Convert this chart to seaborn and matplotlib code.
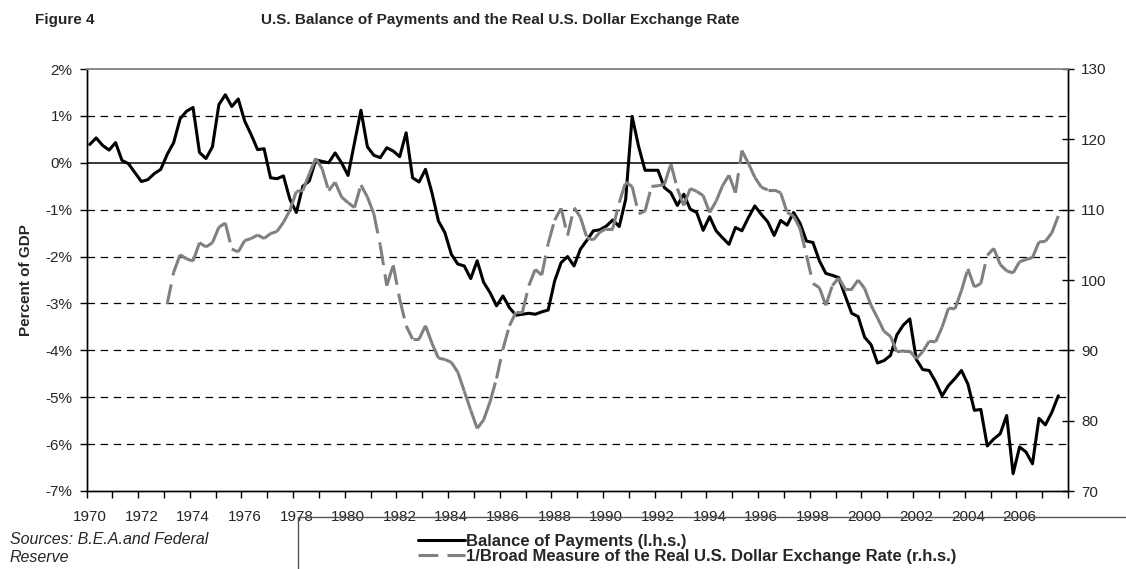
import numpy as np
import pandas as pd
import matplotlib
matplotlib.use("Agg")
import matplotlib.pyplot as plt
import seaborn as sns
from matplotlib.patches import Rectangle
from matplotlib.ticker import FixedLocator, FixedFormatter

# ---------------- data (quarterly, 1970Q1 onward) ----------------
start_year = 1970
# Balance of payments, percent of GDP (l.h.s.), 1970Q1 .. 2007Q3
bop_pct = [
    0.39, 0.53, 0.37, 0.27, 0.43, 0.05, -0.02, -0.21, -0.40, -0.36,
    -0.23, -0.14, 0.18, 0.43, 0.94, 1.10, 1.18, 0.22, 0.09, 0.34,
    1.24, 1.45, 1.20, 1.36, 0.89, 0.60, 0.28, 0.30, -0.32, -0.34,
    -0.28, -0.78, -1.06, -0.50, -0.39, 0.06, 0.03, 0.00, 0.21, 0.00,
    -0.27, 0.43, 1.12, 0.34, 0.16, 0.11, 0.32, 0.25, 0.13, 0.64,
    -0.32, -0.41, -0.14, -0.64, -1.24, -1.49, -1.95, -2.16, -2.20, -2.47,
    -2.09, -2.55, -2.77, -3.05, -2.84, -3.09, -3.25, -3.23, -3.21, -3.23,
    -3.18, -3.14, -2.52, -2.13, -2.00, -2.20, -1.84, -1.65, -1.45, -1.43,
    -1.35, -1.22, -1.36, -0.78, 0.99, 0.35, -0.16, -0.16, -0.16, -0.53,
    -0.64, -0.91, -0.67, -0.99, -1.06, -1.44, -1.15, -1.45, -1.60, -1.74,
    -1.38, -1.45, -1.17, -0.92, -1.10, -1.26, -1.55, -1.23, -1.33, -1.06,
    -1.29, -1.67, -1.70, -2.09, -2.36, -2.40, -2.45, -2.84, -3.21, -3.28,
    -3.72, -3.88, -4.27, -4.22, -4.11, -3.67, -3.46, -3.33, -4.19, -4.41,
    -4.43, -4.67, -4.97, -4.75, -4.60, -4.43, -4.72, -5.28, -5.26, -6.04,
    -5.89, -5.78, -5.39, -6.63, -6.06, -6.17, -6.42, -5.45, -5.59, -5.32,
    -4.97,
]
# 1/Broad real dollar index (r.h.s.), 1973Q1 .. 2007Q3
fx_first_quarter = 12
fx_index = [
    96.6, 101.1, 103.6, 103.0, 102.7, 105.3, 104.7, 105.3, 107.5, 108.1,
    104.4, 104.0, 105.6, 105.9, 106.4, 105.9, 106.6, 106.9, 108.2, 109.9,
    112.6, 112.7, 115.1, 117.3, 115.8, 112.7, 113.9, 111.8, 111.0, 110.3,
    113.5, 111.8, 109.4, 104.9, 99.2, 102.1, 97.3, 93.5, 91.6, 91.6,
    93.5, 91.0, 88.9, 88.7, 88.3, 86.9, 84.2, 81.5, 78.9, 80.1,
    82.7, 86.0, 90.2, 93.5, 95.4, 95.4, 99.2, 101.5, 100.7, 105.2,
    108.5, 110.2, 106.3, 110.3, 108.9, 106.0, 105.7, 106.8, 107.3, 107.3,
    111.0, 113.9, 113.3, 109.4, 109.8, 113.3, 113.4, 113.6, 116.5, 113.0,
    110.6, 113.0, 112.6, 112.0, 109.6, 111.2, 113.4, 114.9, 112.4, 118.4,
    116.6, 114.6, 113.2, 112.8, 112.8, 112.4, 109.6, 109.1, 107.3, 103.5,
    99.5, 98.9, 96.4, 99.2, 100.3, 98.7, 98.7, 100.0, 98.8, 96.4,
    94.6, 92.7, 92.0, 89.8, 89.9, 89.9, 88.8, 89.8, 91.3, 91.2,
    93.3, 96.0, 95.9, 98.5, 101.6, 99.0, 99.5, 103.5, 104.5, 102.2,
    101.3, 101.0, 102.6, 102.9, 103.2, 105.4, 105.5, 106.7, 109.1,
]
left_ticks = [-7, -6, -5, -4, -3, -2, -1, 0, 1, 2]
right_ticks = [70, 80, 90, 100, 110, 120, 130]
year_labels = list(range(1970, 2007, 2))

title_text = "U.S. Balance of Payments and the Real U.S. Dollar Exchange Rate"
label_bop = "Balance of Payments (l.h.s.)"
label_fx = "1/Broad Measure of the Real U.S. Dollar Exchange Rate (r.h.s.)"

# ---------------- frames ----------------
t_bop = start_year + (np.arange(len(bop_pct)) + 0.5) / 4
bop_df = pd.DataFrame({"t": t_bop, "v": bop_pct})

t_fx = start_year + (np.arange(len(fx_index)) + fx_first_quarter + 0.5) / 4
rows = []
for k in range(len(fx_index) - 1):
    rows.append((k, t_fx[k], fx_index[k]))
    rows.append((k, t_fx[k + 1], fx_index[k + 1]))
fx_seg = pd.DataFrame(rows, columns=["seg", "t", "r"])

# ---------------- style ----------------
sns.set_theme(style="white")
plt.rcParams["font.family"] = ["Liberation Sans", "DejaVu Sans"]

W, H = 1126, 569
fig = plt.figure(figsize=(W / 100, H / 100), dpi=100)
fig.patch.set_facecolor("white")
L, R, T, B = 86.5, 1068, 69, 491
ax = fig.add_axes([L / W, 1 - B / H, (R - L) / W, (B - T) / H])
ax.set_facecolor("white")

# gridlines
for g in left_ticks[1:-1]:
    if g == 0:
        continue
    ax.axhline(g, color="black", lw=0.9, linestyle=(0, (6, 4.5)), zorder=1)
ax.axhline(0, color="black", lw=1.1, zorder=1)

sns.lineplot(data=bop_df, x="t", y="v", ax=ax, color="black", lw=2.2,
             estimator=None, zorder=3)
ax.set_xlim(1970, 2008)
ax.set_ylim(-7, 2)

ax2 = ax.twinx()
sns.lineplot(data=fx_seg, x="t", y="r", units="seg", estimator=None, ax=ax2,
             color="#808080", lw=2.2, linestyle=(0, (6.5, 3)),
             dash_capstyle="butt", zorder=3)
ax2.set_ylim(70, 130)
ax2.set_xlim(1970, 2008)

# spines
for a in (ax, ax2):
    for s in ("left", "right", "bottom"):
        a.spines[s].set_color("black")
        a.spines[s].set_linewidth(1.0)
    a.spines["top"].set_color("#8c8c8c")
    a.spines["top"].set_linewidth(1.3)

# left axis ticks
ax.yaxis.set_major_locator(FixedLocator(left_ticks))
ax.set_yticklabels([f"{v}%" for v in left_ticks])
ax.tick_params(axis="y", which="major", direction="out", length=5, width=1,
               color="black", labelsize=11, pad=5, left=True)
ax.set_ylabel("Percent of GDP", fontsize=11, fontweight="bold", labelpad=9)

# right axis ticks
ax2.yaxis.set_major_locator(FixedLocator(right_ticks))
ax2.set_yticklabels([str(v) for v in right_ticks])
ax2.tick_params(axis="y", which="major", direction="inout", length=9, width=1,
                color="black", labelsize=11, pad=5, right=True)
ax2.set_ylabel("")

# x axis: minor tick marks each year, labels every two years
ax.xaxis.set_minor_locator(FixedLocator(list(range(1970, 2009))))
ax.xaxis.set_major_locator(FixedLocator([y + 0.125 for y in year_labels]))
ax.xaxis.set_major_formatter(FixedFormatter([str(y) for y in year_labels]))
ax.tick_params(axis="x", which="major", length=0, labelsize=11, pad=14)
ax.tick_params(axis="x", which="minor", direction="out", length=5, width=1,
               color="black", bottom=True)
ax.set_xlabel("")
ax2.set_xlabel("")

# titles
fig.text(35 / W, 1 - 20 / H, "Figure 4", fontsize=11, fontweight="bold",
         ha="left", va="center")
fig.text(500 / W, 1 - 20 / H, title_text, fontsize=11, fontweight="bold",
         ha="center", va="center")

# sources
fig.text(10 / W, 1 - 539 / H, "Sources: B.E.A.and Federal", fontsize=11.5,
         style="italic", ha="left", va="center")
fig.text(10 / W, 1 - 558 / H, "Reserve", fontsize=11.5, style="italic",
         ha="left", va="center")

# legend box (runs off the page)
fig.patches.append(Rectangle((298 / W, -0.2), 1.0, 0.2 + (1 - 517 / H),
                             transform=fig.transFigure, fill=False,
                             edgecolor="#555555", lw=1.0))
h_bop = ax.get_lines()[-1]
h_fx = ax2.get_lines()[0]
leg = fig.legend([h_bop, h_fx], [label_bop, label_fx], loc="upper left",
                 bbox_to_anchor=(418 / W, 1 - 534 / H), frameon=False,
                 prop={"size": 12, "weight": "bold"}, handlelength=2.8,
                 handletextpad=0.05, labelspacing=0.0, borderpad=0,
                 borderaxespad=0)

fig.savefig("out.png", dpi=100)
